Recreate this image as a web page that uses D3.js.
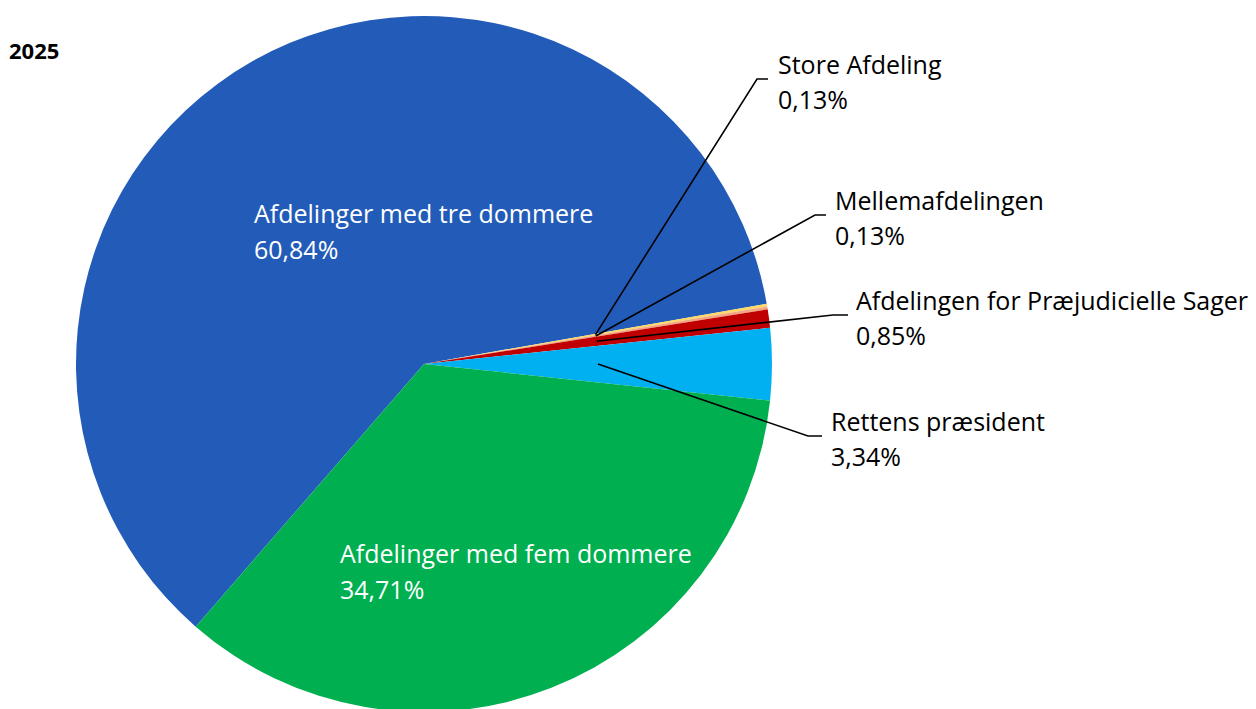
<!DOCTYPE html>
<html>
<head>
<meta charset="utf-8">
<script src="https://cdn.jsdelivr.net/npm/d3@7"></script>
<style>
  body { margin: 0; background: #fff; }
  svg { display: block; font-family: "Open Sans", sans-serif; }
</style>
</head>
<body>
<svg id="chart"></svg>
<script>
// data (clockwise from the green/blue edge)
const categories = [
  'Afdelinger med tre dommere',
  'Store Afdeling',
  'Mellemafdelingen',
  'Afdelingen for Præjudicielle Sager',
  'Rettens præsident',
  'Afdelinger med fem dommere'
];
const shares = [60.84, 0.13, 0.13, 0.85, 3.34, 34.71];
const sliceColors = ['#235cb8', '#ffd966', '#f4a582', '#c00000', '#00b0f0', '#00b050'];
const yearLabel = '2025';

const width = 1256, height = 709;
const cx = 424, cy = 364, R = 348;

// where labels go: inside ones have an anchor point, outside ones an elbow + text start
const layout = [
  { inside: true, x: 254, y: 223 },
  { elbow: [757, 79], end: 768, tx: 778, ty: 74 },
  { elbow: [815, 215], end: 826, tx: 835, ty: 210 },
  { elbow: [833, 315], end: 848, tx: 856, ty: 310 },
  { elbow: [808, 436], end: 822, tx: 831, ty: 431 },
  { inside: true, x: 340, y: 563 }
];

const fmt = v => v.toFixed(2).replace('.', ',') + '%';

const svg = d3.select('#chart').attr('width', width).attr('height', height);

svg.append('text')
  .attr('x', 9).attr('y', 59)
  .attr('font-size', 22).attr('font-weight', 700)
  .text(yearLabel);

const data = categories.map((c, i) => ({ name: c, value: shares[i], color: sliceColors[i], pos: layout[i] }));

const start = 221 * Math.PI / 180;
const pie = d3.pie().sort(null).value(d => d.value)
  .startAngle(start).endAngle(start + 2 * Math.PI);
const arcs = pie(data);

const arc = d3.arc().innerRadius(0).outerRadius(R);

const g = svg.append('g').attr('transform', `translate(${cx},${cy})`);

g.selectAll('path.slice')
  .data(arcs)
  .join('path')
  .attr('class', 'slice')
  .attr('d', arc)
  .attr('fill', d => d.data.color);

// leader lines for the small slices
const outside = arcs.filter(d => !d.data.pos.inside);

g.selectAll('polyline.leader')
  .data(outside)
  .join('polyline')
  .attr('class', 'leader')
  .attr('fill', 'none')
  .attr('stroke', '#000')
  .attr('stroke-width', 1.6)
  .attr('points', d => {
    const c = arc.centroid(d);
    const p = d.data.pos;
    return [c, [p.elbow[0] - cx, p.elbow[1] - cy], [p.end - cx, p.elbow[1] - cy]].join(' ');
  });

// outside labels
const outLabels = svg.selectAll('text.out')
  .data(outside)
  .join('text')
  .attr('class', 'out')
  .attr('font-size', 25)
  .attr('fill', '#000');
outLabels.append('tspan')
  .attr('x', d => d.data.pos.tx).attr('y', d => d.data.pos.ty)
  .text(d => d.data.name);
outLabels.append('tspan')
  .attr('x', d => d.data.pos.tx).attr('y', d => d.data.pos.ty + 35)
  .text(d => fmt(d.data.value));

// inside labels
const inLabels = svg.selectAll('text.in')
  .data(arcs.filter(d => d.data.pos.inside))
  .join('text')
  .attr('class', 'in')
  .attr('font-size', 25)
  .attr('fill', '#fff');
inLabels.append('tspan')
  .attr('x', d => d.data.pos.x).attr('y', d => d.data.pos.y)
  .text(d => d.data.name);
inLabels.append('tspan')
  .attr('x', d => d.data.pos.x).attr('y', d => d.data.pos.y + 36)
  .text(d => fmt(d.data.value));
</script>
</body>
</html>
